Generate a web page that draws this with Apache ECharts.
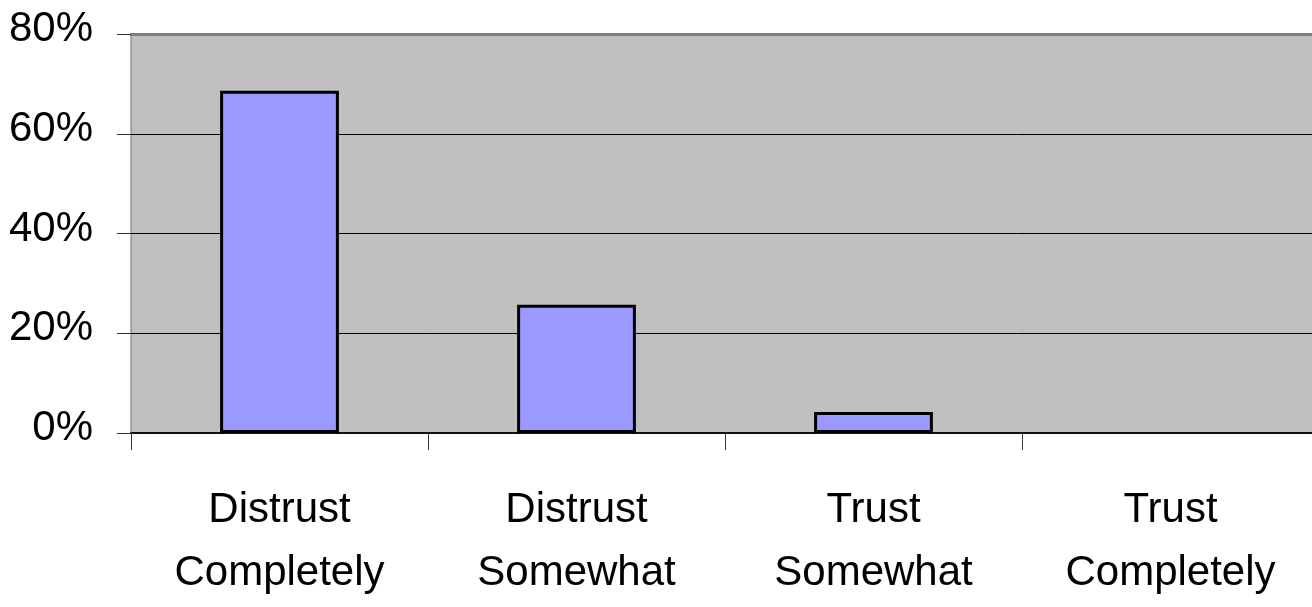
<!DOCTYPE html>
<html>
<head>
<meta charset="utf-8">
<script src="https://cdn.jsdelivr.net/npm/echarts@6/dist/echarts.min.js"></script>
<style>
  html, body { margin: 0; padding: 0; background: #fff; }
  #chart { width: 1312px; height: 607px; }
</style>
</head>
<body>
<div id="chart"></div>
<script>
// Survey answers: how much respondents trust the source
const categories = ['Distrust\nCompletely', 'Distrust\nSomewhat', 'Trust\nSomewhat', 'Trust\nCompletely'];
const shares = [68.6, 25.7, 4.2, 0];   // percent of respondents
const yTicks = { min: 0, max: 80, step: 20 };

const FONT = "'Liberation Sans', Arial, sans-serif";

// a zero share has no visible bar, so drop its outline
const barData = shares.map(v => v === 0 ? { value: v, itemStyle: { borderWidth: 0 } } : v);

const chart = echarts.init(document.getElementById('chart'), null, { renderer: 'canvas' });
chart.setOption({
  backgroundColor: '#ffffff',
  animation: false,
  grid: {
    left: 131, top: 34, width: 1188, height: 399,
    outerBoundsMode: 'none',
    containLabel: false,
    show: true,
    backgroundColor: '#c0c0c0',
    borderColor: '#707070',
    borderWidth: 1
  },
  xAxis: [{
    type: 'category',
    data: categories,
    axisLine: { show: true, lineStyle: { color: '#111', width: 2 } },
    axisTick: { show: true, length: 17, lineStyle: { color: '#333', width: 1 } },
    axisLabel: {
      margin: 46,
      color: '#000',
      fontFamily: FONT,
      fontSize: 42,
      lineHeight: 63,
      interval: 0
    },
    splitLine: { show: false }
  }, {
    // heavy grey frame line along the top of the plot
    type: 'category',
    position: 'top',
    data: categories,
    axisLine: { show: true, lineStyle: { color: '#808080', width: 3 } },
    axisTick: { show: false },
    axisLabel: { show: false },
    splitLine: { show: false }
  }],
  yAxis: {
    type: 'value',
    min: yTicks.min, max: yTicks.max, interval: yTicks.step,
    axisLine: { show: false },
    axisTick: { show: true, length: 14, lineStyle: { color: '#333', width: 1 } },
    axisLabel: {
      margin: 38,
      color: '#000',
      fontFamily: FONT,
      fontSize: 42,
      formatter: '{pct|{value}%}',
      rich: {
        pct: { fontFamily: FONT, fontSize: 42, color: '#000', padding: [0, 0, 9, 0] }
      }
    },
    splitLine: { show: true, showMaxLine: false, lineStyle: { color: '#000', width: 1 } }
  },
  series: [{
    type: 'bar',
    data: barData,
    barWidth: '40%',
    itemStyle: { color: '#9999ff', borderColor: '#000', borderWidth: 3 }
  }]
});
</script>
</body>
</html>
